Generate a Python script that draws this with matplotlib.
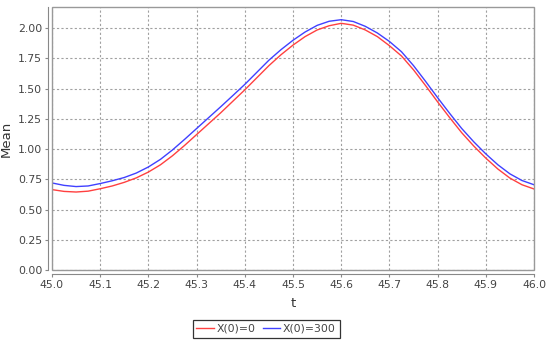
import matplotlib
matplotlib.use("Agg")
import matplotlib.pyplot as plt
from matplotlib.patches import Rectangle

# values
t = [45.000, 45.025, 45.050, 45.075, 45.100, 45.125, 45.150, 45.175, 45.200, 45.225,
     45.250, 45.275, 45.300, 45.325, 45.350, 45.375, 45.400, 45.425, 45.450, 45.475,
     45.500, 45.525, 45.550, 45.575, 45.600, 45.625, 45.650, 45.675, 45.700, 45.725,
     45.750, 45.775, 45.800, 45.825, 45.850, 45.875, 45.900, 45.925, 45.950, 45.975,
     46.000]
mean_x0 = [0.665, 0.650, 0.645, 0.652, 0.672, 0.695, 0.725, 0.762, 0.810, 0.870,
           0.945, 1.030, 1.120, 1.210, 1.300, 1.395, 1.490, 1.590, 1.690, 1.780,
           1.860, 1.930, 1.985, 2.020, 2.040, 2.025, 1.985, 1.930, 1.855, 1.770,
           1.655, 1.525, 1.390, 1.260, 1.135, 1.025, 0.925, 0.835, 0.760, 0.705,
           0.670]
mean_x300 = [0.720, 0.700, 0.690, 0.695, 0.715, 0.738, 0.765, 0.802, 0.852, 0.915,
             0.993, 1.080, 1.170, 1.260, 1.350, 1.442, 1.535, 1.635, 1.735, 1.822,
             1.900, 1.968, 2.023, 2.057, 2.070, 2.055, 2.015, 1.960, 1.890, 1.805,
             1.690, 1.560, 1.425, 1.295, 1.170, 1.060, 0.960, 0.870, 0.795, 0.740,
             0.705]
labels = ["X(0)=0", "X(0)=300"]
xticks = [45.0, 45.1, 45.2, 45.3, 45.4, 45.5, 45.6, 45.7, 45.8, 45.9, 46.0]
yticks = [0.0, 0.25, 0.5, 0.75, 1.0, 1.25, 1.5, 1.75, 2.0]

fig = plt.figure(figsize=(5.5, 3.43), dpi=100)
ax = fig.add_axes([0.0945, 0.2128, 0.8765, 0.7668])

ax.plot(t, mean_x0, color="#ff4040", lw=1.0, label=labels[0])
ax.plot(t, mean_x300, color="#4040ff", lw=1.0, label=labels[1])

ax.set_xlim(45.0, 46.0)
ax.set_ylim(0, 2.175)
ax.set_xticks(xticks)
ax.set_xticklabels([f"{v:.1f}" for v in xticks])
ax.set_yticks(yticks)
ax.set_yticklabels([f"{v:.2f}" for v in yticks])

ax.grid(True, color="#a0a0a0", lw=0.8, linestyle=(0, (2, 2)))
ax.set_axisbelow(True)

# axis lines sit slightly outside the plot area, like the original
for s in ["top", "right"]:
    ax.spines[s].set_visible(False)
for s in ["left", "bottom"]:
    ax.spines[s].set_position(("outward", 3))
    ax.spines[s].set_color("#888888")
ax.add_patch(Rectangle((0, 0), 1, 1, transform=ax.transAxes, fill=False,
                       edgecolor="#999999", lw=1.0, clip_on=False, zorder=5))

ax.tick_params(axis="both", colors="#888888", labelcolor="#444444",
               labelsize=7.8, length=2, width=0.8, pad=2)

ax.set_xlabel("t", fontsize=9.5, color="#333333", labelpad=5)
ax.set_ylabel("Mean", fontsize=9.5, color="#333333", labelpad=4)

leg = fig.legend(loc="center", bbox_to_anchor=(0.484, 0.041), ncol=2,
                 fontsize=7.8, frameon=True, fancybox=False, handlelength=1.6,
                 handletextpad=0.3, columnspacing=0.6, borderpad=0.35)
leg.get_frame().set_edgecolor("black")
leg.get_frame().set_linewidth(0.9)
for txt in leg.get_texts():
    txt.set_color("#444444")

fig.savefig("out.png", dpi=100)
